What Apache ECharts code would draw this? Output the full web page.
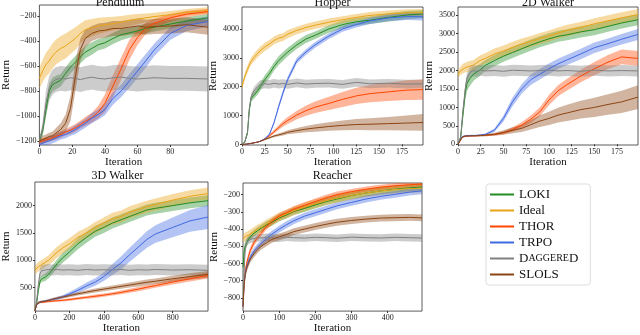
<!DOCTYPE html>
<html>
<head>
<meta charset="utf-8">
<script src="https://cdn.jsdelivr.net/npm/echarts@6/dist/echarts.min.js"></script>
<style>
html, body { margin: 0; padding: 0; background: #fff; }
#chart { width: 640px; height: 335px; }
</style>
</head>
<body>
<div id="chart"></div>
<script>
var methods = ['LOKI', 'Ideal', 'THOR', 'TRPO', 'DAggereD', 'SLOLS']
var colors = ['#228b22', '#e8a317', '#ff4500', '#4169e1', '#808080', '#8b4513']

// Pendulum
var pendX = [0, 2, 4, 6, 8, 10, 13, 16, 19, 22, 25, 28, 32, 36, 40, 45, 50, 55, 60, 65, 70, 80, 90, 103]
var pendLoki = [-1200, -1120, -950, -800, -750, -735, -715, -660, -610, -570, -530, -490, -460, -430, -415, -380, -350, -335, -320, -300, -290, -265, -240, -215]
var pendLokiSd = [20, 40, 60, 60, 55, 55, 50, 50, 50, 50, 50, 50, 50, 45, 45, 45, 45, 40, 40, 40, 35, 35, 30, 30]
var pendIdeal = [-700, -640, -590, -560, -520, -490, -460, -440, -410, -380, -340, -310, -295, -280, -270, -262, -250, -235, -225, -215, -205, -190, -170, -155]
var pendIdealSd = [85, 90, 95, 100, 100, 100, 100, 100, 95, 90, 80, 75, 70, 65, 60, 55, 50, 45, 40, 35, 30, 30, 25, 25]
var pendThor = [-1210, -1200, -1190, -1185, -1175, -1165, -1150, -1130, -1115, -1095, -1070, -1045, -1015, -970, -900, -760, -620, -470, -370, -300, -260, -215, -185, -165]
var pendThorSd = [20, 20, 20, 20, 20, 25, 25, 25, 30, 30, 30, 35, 40, 50, 70, 90, 90, 80, 60, 45, 35, 30, 25, 20]
var pendTrpo = [-1230, -1220, -1210, -1200, -1190, -1180, -1160, -1150, -1130, -1110, -1085, -1060, -1020, -990, -950, -860, -800, -720, -640, -560, -475, -340, -275, -245]
var pendTrpoSd = [30, 30, 30, 30, 30, 30, 30, 30, 30, 35, 35, 35, 40, 40, 45, 50, 50, 55, 55, 55, 50, 50, 45, 40]
var pendDag = [-1200, -1100, -900, -780, -730, -710, -700, -705, -695, -700, -710, -700, -690, -700, -705, -695, -690, -700, -705, -700, -695, -700, -700, -705]
var pendDagSd = [20, 50, 100, 100, 100, 100, 100, 100, 100, 100, 100, 100, 100, 100, 100, 100, 100, 100, 100, 100, 100, 100, 100, 100]
var pendSlols = [-1200, -1190, -1180, -1165, -1160, -1140, -1110, -1060, -940, -680, -470, -380, -340, -320, -315, -300, -300, -290, -280, -290, -285, -280, -270, -290]
var pendSlolsSd = [20, 30, 30, 30, 35, 40, 50, 70, 100, 120, 90, 70, 60, 60, 60, 60, 60, 60, 60, 60, 60, 60, 60, 60]

// Hopper
var hopX = [0, 3, 6, 8, 10, 13, 17, 20, 25, 30, 35, 40, 45, 50, 60, 70, 80, 95, 110, 125, 140, 160, 180, 198]
var hopLoki = [0, 80, 400, 1200, 1600, 1700, 1850, 2000, 2250, 2450, 2700, 2900, 3050, 3200, 3450, 3650, 3780, 4000, 4150, 4250, 4300, 4400, 4480, 4520]
var hopLokiSd = [0, 30, 80, 100, 120, 120, 130, 140, 150, 150, 150, 150, 150, 150, 140, 140, 130, 130, 130, 130, 130, 140, 140, 140]
var hopIdeal = [2000, 2350, 2600, 2750, 2880, 3000, 3150, 3250, 3380, 3480, 3600, 3680, 3720, 3820, 3950, 4050, 4130, 4230, 4320, 4400, 4470, 4520, 4560, 4560]
var hopIdealSd = [100, 120, 130, 130, 130, 140, 140, 140, 140, 140, 140, 140, 140, 140, 130, 130, 130, 130, 120, 120, 120, 120, 120, 120]
var hopThor = [0, 5, 15, 25, 35, 55, 80, 110, 190, 300, 440, 580, 720, 830, 1020, 1170, 1290, 1420, 1560, 1680, 1760, 1820, 1880, 1900]
var hopThorSd = [0, 0, 5, 5, 10, 10, 15, 20, 30, 45, 60, 80, 100, 120, 150, 180, 200, 230, 260, 280, 300, 320, 340, 350]
var hopTrpo = [0, 5, 15, 25, 35, 55, 80, 110, 190, 350, 750, 1300, 1800, 2250, 2900, 3200, 3450, 3750, 4000, 4150, 4280, 4380, 4430, 4420]
var hopTrpoSd = [0, 0, 5, 5, 10, 10, 15, 20, 30, 40, 60, 80, 100, 100, 100, 100, 100, 100, 100, 100, 110, 110, 120, 130]
var hopDag = [0, 80, 420, 1250, 1650, 1850, 2000, 2070, 2100, 2080, 2120, 2090, 2110, 2080, 2130, 2090, 2110, 2120, 2080, 2150, 2100, 2120, 2090, 2100]
var hopDagSd = [0, 30, 80, 100, 120, 130, 140, 150, 150, 150, 150, 150, 150, 150, 150, 150, 150, 150, 150, 150, 150, 150, 150, 150]
var hopSlols = [0, 5, 15, 25, 35, 55, 80, 110, 170, 230, 290, 330, 370, 420, 480, 530, 570, 620, 660, 690, 700, 720, 740, 760]
var hopSlolsSd = [0, 0, 5, 5, 10, 10, 15, 20, 25, 30, 40, 50, 60, 70, 90, 110, 130, 150, 170, 190, 210, 230, 260, 290]

// 2D Walker
var w2X = [0, 3, 5, 8, 10, 13, 17, 20, 25, 30, 40, 50, 60, 70, 80, 90, 100, 110, 120, 135, 150, 165, 180, 198]
var w2Loki = [0, 200, 700, 1400, 1650, 1780, 1900, 1950, 2030, 2140, 2270, 2390, 2490, 2590, 2690, 2780, 2860, 2930, 2970, 3050, 3110, 3200, 3290, 3380]
var w2LokiSd = [0, 50, 150, 200, 200, 200, 180, 170, 160, 150, 150, 150, 150, 150, 150, 150, 150, 150, 150, 150, 150, 150, 150, 150]
var w2Ideal = [1900, 2000, 2050, 2080, 2100, 2120, 2150, 2200, 2280, 2330, 2450, 2530, 2630, 2720, 2790, 2870, 2940, 3020, 3090, 3170, 3270, 3350, 3430, 3520]
var w2IdealSd = [100, 120, 130, 130, 140, 140, 140, 140, 140, 140, 150, 150, 150, 150, 150, 150, 150, 150, 150, 150, 150, 150, 150, 150]
var w2Thor = [0, 120, 200, 220, 225, 228, 230, 232, 238, 245, 265, 310, 400, 520, 680, 880, 1200, 1450, 1620, 1850, 2050, 2230, 2370, 2330]
var w2ThorSd = [0, 20, 20, 20, 20, 20, 20, 20, 20, 25, 30, 40, 60, 80, 100, 120, 140, 150, 160, 170, 180, 190, 200, 200]
var w2Trpo = [0, 150, 210, 225, 230, 235, 235, 240, 250, 265, 380, 700, 1150, 1500, 1750, 1900, 2050, 2180, 2290, 2450, 2620, 2730, 2850, 2980]
var w2TrpoSd = [0, 20, 20, 20, 20, 20, 20, 20, 25, 30, 50, 80, 120, 130, 140, 140, 140, 140, 140, 140, 140, 140, 140, 150]
var w2Dag = [0, 200, 800, 1500, 1800, 1950, 2000, 1980, 2010, 1990, 2000, 1980, 2010, 2000, 1990, 2000, 2010, 1990, 2000, 1980, 2010, 1990, 2000, 1990]
var w2DagSd = [0, 50, 150, 150, 150, 150, 150, 150, 150, 150, 150, 150, 150, 150, 150, 150, 150, 150, 150, 150, 150, 150, 150, 150]
var w2Slols = [0, 120, 200, 220, 225, 228, 230, 232, 238, 245, 270, 320, 380, 430, 530, 630, 700, 790, 850, 940, 1000, 1080, 1150, 1280]
var w2SlolsSd = [0, 20, 20, 20, 20, 20, 20, 20, 25, 30, 40, 60, 80, 100, 130, 160, 180, 200, 220, 240, 260, 280, 300, 320]

// 3D Walker
var w3X = [0, 10, 20, 30, 40, 60, 80, 100, 130, 160, 200, 250, 300, 350, 400, 450, 500, 550, 600, 650, 700, 800, 900, 1005]
var w3Loki = [75, 200, 450, 620, 660, 690, 740, 820, 940, 1040, 1150, 1300, 1420, 1530, 1600, 1680, 1740, 1800, 1860, 1920, 1950, 2000, 2050, 2090]
var w3LokiSd = [10, 40, 60, 60, 60, 70, 70, 80, 80, 90, 90, 100, 100, 100, 100, 100, 100, 100, 100, 100, 100, 100, 100, 100]
var w3Ideal = [820, 850, 880, 900, 920, 960, 1000, 1060, 1150, 1220, 1300, 1420, 1500, 1600, 1680, 1760, 1800, 1880, 1930, 1980, 2020, 2100, 2170, 2220]
var w3IdealSd = [80, 80, 85, 85, 90, 90, 90, 100, 100, 100, 100, 100, 100, 100, 100, 110, 110, 110, 110, 110, 110, 110, 110, 110]
var w3Thor = [75, 190, 220, 230, 232, 238, 245, 250, 258, 265, 280, 300, 320, 340, 360, 385, 410, 440, 470, 505, 535, 600, 660, 720]
var w3ThorSd = [10, 20, 20, 20, 20, 20, 20, 20, 20, 20, 25, 25, 25, 30, 30, 30, 35, 35, 40, 40, 40, 45, 50, 55]
var w3Trpo = [75, 180, 220, 235, 240, 250, 265, 280, 300, 330, 380, 450, 530, 600, 700, 830, 950, 1100, 1240, 1380, 1480, 1600, 1720, 1790]
var w3TrpoSd = [10, 20, 20, 20, 20, 20, 20, 25, 30, 30, 40, 50, 60, 70, 80, 100, 120, 130, 140, 150, 160, 180, 200, 220]
var w3Dag = [75, 250, 550, 760, 810, 820, 830, 820, 830, 820, 825, 815, 830, 820, 825, 820, 830, 815, 825, 820, 830, 820, 825, 815]
var w3DagSd = [10, 50, 80, 100, 100, 100, 100, 100, 100, 100, 100, 100, 100, 100, 100, 100, 100, 100, 100, 100, 100, 100, 100, 100]
var w3Slols = [75, 190, 225, 235, 240, 250, 265, 285, 305, 325, 350, 385, 415, 445, 470, 495, 520, 545, 570, 595, 615, 660, 700, 740]
var w3SlolsSd = [10, 20, 20, 20, 20, 20, 20, 20, 25, 25, 30, 30, 35, 35, 40, 40, 45, 45, 50, 50, 50, 55, 60, 60]

// Reacher
var reachX = [0, 3, 6, 10, 15, 20, 30, 40, 50, 65, 80, 100, 120, 140, 170, 200, 230, 260, 300, 340, 380, 420, 460, 495]
var reachLoki = [-620, -540, -500, -480, -460, -445, -425, -410, -395, -375, -360, -335, -318, -298, -280, -260, -240, -225, -205, -190, -178, -168, -160, -155]
var reachLokiSd = [60, 40, 30, 25, 20, 20, 20, 20, 20, 20, 20, 20, 20, 20, 20, 20, 20, 20, 20, 20, 20, 20, 20, 20]
var reachIdeal = [-455, -450, -445, -440, -435, -428, -415, -400, -390, -370, -352, -330, -312, -295, -272, -252, -235, -220, -204, -190, -178, -170, -165, -162]
var reachIdealSd = [25, 25, 25, 25, 25, 25, 25, 25, 25, 25, 25, 25, 25, 25, 25, 25, 25, 25, 25, 25, 25, 25, 25, 25]
var reachThor = [-850, -720, -650, -600, -560, -525, -480, -450, -425, -385, -355, -325, -305, -285, -262, -240, -218, -200, -182, -168, -157, -148, -142, -138]
var reachThorSd = [30, 25, 20, 20, 20, 20, 20, 18, 18, 18, 18, 18, 18, 18, 18, 18, 18, 18, 15, 15, 15, 15, 15, 15]
var reachTrpo = [-850, -720, -660, -620, -590, -565, -530, -505, -485, -455, -430, -400, -375, -352, -325, -305, -285, -265, -245, -225, -210, -198, -185, -178]
var reachTrpoSd = [30, 25, 25, 20, 20, 20, 20, 20, 20, 20, 20, 20, 20, 20, 20, 20, 20, 20, 20, 20, 20, 20, 20, 20]
var reachDag = [-850, -650, -520, -475, -465, -460, -455, -450, -452, -448, -450, -453, -447, -450, -452, -448, -450, -453, -447, -450, -452, -448, -450, -452]
var reachDagSd = [30, 25, 25, 22, 22, 22, 22, 22, 22, 22, 22, 22, 22, 22, 22, 22, 22, 22, 22, 22, 22, 22, 22, 22]
var reachSlols = [-850, -730, -670, -630, -600, -575, -545, -520, -500, -480, -460, -445, -432, -415, -400, -385, -372, -360, -350, -342, -336, -334, -332, -335]
var reachSlolsSd = [30, 25, 20, 20, 20, 20, 20, 20, 20, 20, 20, 20, 20, 20, 20, 20, 20, 20, 20, 20, 20, 20, 20, 20]

// tick labels
var pendXTicks = [0, 20, 40, 60, 80]
var pendYTicks = [-1200, -1000, -800, -600, -400, -200]
var hopXTicks = [0, 25, 50, 75, 100, 125, 150, 175]
var hopYTicks = [0, 1000, 2000, 3000, 4000]
var w2XTicks = [0, 25, 50, 75, 100, 125, 150, 175]
var w2YTicks = [0, 500, 1000, 1500, 2000, 2500, 3000, 3500]
var w3XTicks = [0, 200, 400, 600, 800]
var w3YTicks = [500, 1000, 1500, 2000]
var reachXTicks = [0, 100, 200, 300, 400]
var reachYTicks = [-800, -700, -600, -500, -400, -300, -200]

var panels = [
  { title: 'Pendulum', box: [32, 5, 176, 140], xr: [0, 103], yr: [-1234, -112], nameGap: 22,
    x: pendX, xt: pendXTicks, yt: pendYTicks,
    mean: [pendLoki, pendIdeal, pendThor, pendTrpo, pendDag, pendSlols],
    sd: [pendLokiSd, pendIdealSd, pendThorSd, pendTrpoSd, pendDagSd, pendSlolsSd] },
  { title: 'Hopper', box: [242, 7, 181, 138], xr: [0, 198], yr: [-20, 4760], nameGap: 17,
    x: hopX, xt: hopXTicks, yt: hopYTicks,
    mean: [hopLoki, hopIdeal, hopThor, hopTrpo, hopDag, hopSlols],
    sd: [hopLokiSd, hopIdealSd, hopThorSd, hopTrpoSd, hopDagSd, hopSlolsSd] },
  { title: '2D Walker', box: [458, 7, 180, 138], xr: [0, 198], yr: [-20, 3725], nameGap: 18,
    x: w2X, xt: w2XTicks, yt: w2YTicks,
    mean: [w2Loki, w2Ideal, w2Thor, w2Trpo, w2Dag, w2Slols],
    sd: [w2LokiSd, w2IdealSd, w2ThorSd, w2TrpoSd, w2DagSd, w2SlolsSd] },
  { title: '3D Walker', box: [27, 182, 181, 136], xr: [0, 1005], yr: [68, 2432], nameGap: 18,
    x: w3X, xt: w3XTicks, yt: w3YTicks,
    mean: [w3Loki, w3Ideal, w3Thor, w3Trpo, w3Dag, w3Slols],
    sd: [w3LokiSd, w3IdealSd, w3ThorSd, w3TrpoSd, w3DagSd, w3SlolsSd] },
  { title: 'Reacher', box: [243, 183, 179, 135], xr: [0, 495], yr: [-877, -132], nameGap: 18,
    x: reachX, xt: reachXTicks, yt: reachYTicks,
    mean: [reachLoki, reachIdeal, reachThor, reachTrpo, reachDag, reachSlols],
    sd: [reachLokiSd, reachIdealSd, reachThorSd, reachTrpoSd, reachDagSd, reachSlolsSd] }
]

var serif = 'Liberation Serif, DejaVu Serif, serif'
var minus = function(v) { return String(v).replace('-', '\u2212') }

// shaded band: one polygon through the upper edge and back along the lower edge
function bandRenderer(rows, color) {
  return function(params, api) {
    if (params.dataIndex !== 0) return
    var pts = []
    for (var i = 0; i < rows.length; i++) pts.push(api.coord([rows[i][0], rows[i][2]]))
    for (var j = rows.length - 1; j >= 0; j--) pts.push(api.coord([rows[j][0], rows[j][1]]))
    return { type: 'polygon', shape: { points: pts }, style: { fill: color, opacity: 0.4 } }
  }
}

var grids = [], xAxes = [], yAxes = [], titles = [], series = []
panels.forEach(function(p, gi) {
  grids.push({ left: p.box[0], top: p.box[1], width: p.box[2], height: p.box[3],
    show: true, borderColor: '#333', borderWidth: 0.8, backgroundColor: 'transparent' })
  titles.push({ text: p.title, left: p.box[0] + p.box[2] / 2, top: gi < 3 ? -3 : 170, textAlign: 'center', padding: 0,
    textStyle: { fontFamily: serif, fontSize: 12, fontWeight: 'normal', color: '#111' } })
  xAxes.push({ gridIndex: gi, type: 'value', min: p.xr[0], max: p.xr[1],
    name: 'Iteration', nameLocation: 'middle', nameGap: 8,
    nameTextStyle: { fontFamily: serif, fontSize: 11, color: '#111', verticalAlign: 'top' },
    axisLine: { show: false }, splitLine: { show: false },
    axisTick: { show: true, length: 2, customValues: p.xt, lineStyle: { color: '#333' } },
    axisLabel: { customValues: p.xt, margin: 3, fontFamily: serif, fontSize: 8, color: '#222' } })
  yAxes.push({ gridIndex: gi, type: 'value', min: p.yr[0], max: p.yr[1],
    name: 'Return', nameLocation: 'middle', nameGap: p.nameGap, nameRotate: 90,
    nameTextStyle: { fontFamily: serif, fontSize: 11, color: '#111' },
    axisLine: { show: false }, splitLine: { show: false },
    axisTick: { show: true, length: 2, customValues: p.yt, lineStyle: { color: '#333' } },
    axisLabel: { customValues: p.yt, margin: 3, fontFamily: serif, fontSize: 8, color: '#222', formatter: minus } })

  methods.forEach(function(m, k) {
    var rows = [], mid = []
    p.x.forEach(function(xv, i) {
      rows.push([xv, p.mean[k][i] - p.sd[k][i], p.mean[k][i] + p.sd[k][i]])
      mid.push([xv, p.mean[k][i]])
    })
    series.push({ name: m + ' band', type: 'custom', xAxisIndex: gi, yAxisIndex: gi,
      data: rows, encode: { x: 0, y: [1, 2] }, clip: true, silent: true,
      renderItem: bandRenderer(rows, colors[k]), z: 2 })
    series.push({ name: m, type: 'line', xAxisIndex: gi, yAxisIndex: gi, data: mid,
      symbol: 'none', color: colors[k], lineStyle: { width: 1, color: colors[k] }, z: 3 })
  })
})

var myChart = echarts.init(document.getElementById('chart'))
myChart.setOption({
  animation: false,
  title: titles,
  grid: grids,
  xAxis: xAxes,
  yAxis: yAxes,
  legend: {
    data: methods,
    orient: 'vertical',
    left: 486, top: 184,
    icon: 'rect', itemWidth: 24, itemHeight: 2, itemGap: 3,
    padding: [4, 12, 4, 4],
    borderColor: '#ddd', borderWidth: 1, borderRadius: 3,
    selectedMode: false,
    formatter: function(name) {
      return name === 'DAggereD' ? '{a|D}{b|AGGERE}{a|D}' : name
    },
    textStyle: { fontFamily: serif, fontSize: 13, color: '#111',
      rich: { a: { fontFamily: serif, fontSize: 13, color: '#111' }, b: { fontFamily: serif, fontSize: 10, color: '#111' } } }
  },
  series: series
})
</script>
</body>
</html>
